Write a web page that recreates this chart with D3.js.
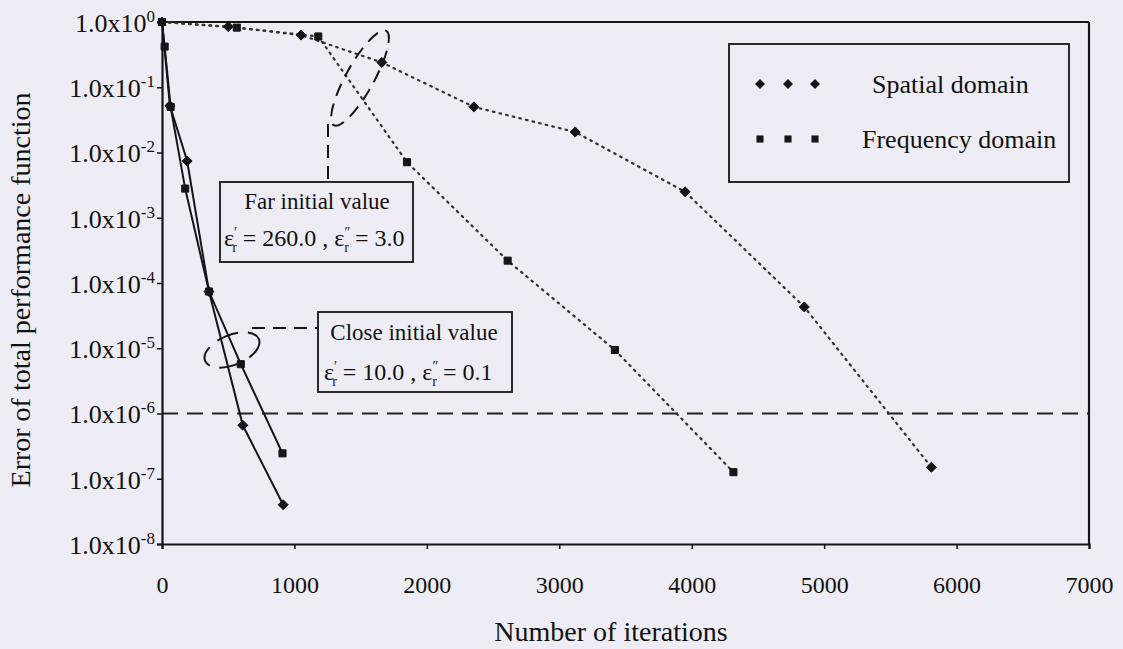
<!DOCTYPE html>
<html>
<head>
<meta charset="utf-8">
<script src="https://cdn.jsdelivr.net/npm/d3@7"></script>
<style>
  html, body { margin: 0; padding: 0; background: #eeedf6; }
  svg { display: block; }
  svg text { font-family: "Liberation Serif", "Times New Roman", Times, "DejaVu Serif", serif; fill: #111; }
</style>
</head>
<body>
<svg id="chart" width="1123" height="649"></svg>
<script>
// ---- data ----
const xTicks = [0, 1000, 2000, 3000, 4000, 5000, 6000, 7000];
const yTickExps = [0, -1, -2, -3, -4, -5, -6, -7, -8];

// Far initial value (dotted lines)
const farSpatialIter = [0, 500, 1050, 1660, 2355, 3120, 3950, 4850, 5810];
const farSpatialErr  = [1.0, 0.85, 0.63, 0.24, 0.05, 0.0206, 2.5e-3, 4.3e-5, 1.5e-7];
const farFreqIter    = [0, 565, 1180, 1850, 2610, 3420, 4315];
const farFreqErr     = [1.0, 0.82, 0.60, 7.1e-3, 2.2e-4, 9.4e-6, 1.26e-7];

// Close initial value (solid lines)
const closeSpatialIter = [0, 60, 190, 355, 610, 915];
const closeSpatialErr  = [1.0, 0.052, 7.4e-3, 7.4e-5, 6.6e-7, 4.0e-8];
const closeFreqIter    = [0, 20, 65, 175, 355, 595, 910];
const closeFreqErr     = [1.0, 0.42, 0.05, 2.8e-3, 7.4e-5, 5.7e-6, 2.45e-7];

const threshold = 1e-6;
const legendLabels = ["Spatial domain", "Frequency domain"];
const xTitle = "Number of iterations";
const yTitle = "Error of total performance function";

const FONT = "'Liberation Serif', 'Times New Roman', Times, 'DejaVu Serif', serif";

// ---- scales ----
const svg = d3.select("#chart");
const x = d3.scaleLinear().domain([0, 7000]).range([162, 1089]);
const y = d3.scaleLog().domain([1e-8, 1]).range([544, 22]);
const ink = "#151515";

// frame: top and right borders
svg.append("line").attr("x1", x(0)).attr("x2", x(7000)).attr("y1", y(1)).attr("y2", y(1))
  .attr("stroke", ink).attr("stroke-width", 2.2);
svg.append("line").attr("x1", x(7000)).attr("x2", x(7000)).attr("y1", y(1)).attr("y2", y(1e-8))
  .attr("stroke", ink).attr("stroke-width", 2.2);

// x axis
const gx = svg.append("g").attr("transform", `translate(0,${y(1e-8)})`)
  .call(d3.axisBottom(x).tickValues(xTicks).tickSize(5).tickPadding(27).tickFormat(d3.format("d")));
gx.attr("font-family", null).attr("font-size", null);
gx.select(".domain").attr("stroke", ink).attr("stroke-width", 2.2);
gx.selectAll(".tick line").attr("stroke", ink).attr("stroke-width", 1.5);
gx.selectAll(".tick text").attr("font-size", 24).style("font-family", FONT).attr("fill", ink);

// y axis
const gy = svg.append("g").attr("transform", `translate(${x(0)},0)`)
  .call(d3.axisLeft(y).tickValues(yTickExps.map(e => Math.pow(10, e))).tickSize(5).tickFormat(""));
gy.attr("font-family", null).attr("font-size", null);
gy.select(".domain").attr("stroke", ink).attr("stroke-width", 2.2);
gy.selectAll(".tick line").attr("stroke", ink).attr("stroke-width", 1.5);
gy.selectAll(".tick").each(function(d, i) {
  const t = d3.select(this).append("text")
    .attr("x", -7).attr("dy", "0.36em").attr("text-anchor", "end")
    .attr("font-size", 26).style("font-family", FONT).attr("fill", ink);
  t.append("tspan").text("1.0x10");
  t.append("tspan").attr("font-size", 17).attr("dy", -10).text(yTickExps[i]);
});

// axis titles
svg.append("text").attr("x", 611).attr("y", 641).attr("text-anchor", "middle")
  .attr("font-size", 28).style("font-family", FONT).text(xTitle);
svg.append("text").attr("transform", `translate(30,290) rotate(-90)`)
  .attr("text-anchor", "middle").attr("font-size", 28).style("font-family", FONT).text(yTitle);

// threshold dashed line
svg.append("line").attr("x1", x(0)).attr("x2", x(7000)).attr("y1", y(threshold)).attr("y2", y(threshold))
  .attr("stroke", "#222").attr("stroke-width", 2).attr("stroke-dasharray", "16,9");

// series
const line = d3.line().x(d => x(d[0])).y(d => y(d[1]));
const zip = (a, b) => a.map((v, i) => [v, b[i]]);
const series = [
  { data: zip(farSpatialIter, farSpatialErr), marker: "diamond", dotted: true },
  { data: zip(farFreqIter, farFreqErr), marker: "square", dotted: true },
  { data: zip(closeSpatialIter, closeSpatialErr), marker: "diamond", dotted: false },
  { data: zip(closeFreqIter, closeFreqErr), marker: "square", dotted: false },
];
const diamond = d3.symbol().type(d3.symbolDiamond2).size(64);
const square = d3.symbol().type(d3.symbolSquare2).size(64);

series.forEach(s => {
  const p = svg.append("path").datum(s.data).attr("d", line).attr("fill", "none");
  if (s.dotted) p.attr("stroke", "#333").attr("stroke-width", 2.2).attr("stroke-dasharray", "1.6,5.2").attr("stroke-linecap", "round");
  else p.attr("stroke", ink).attr("stroke-width", 2);
});
series.forEach(s => {
  svg.append("g").selectAll("path").data(s.data).join("path")
    .attr("transform", d => `translate(${x(d[0])},${y(d[1])})`)
    .attr("d", s.marker === "diamond" ? diamond : square)
    .attr("fill", ink).attr("stroke", ink).attr("stroke-width", 1);
});

// ---- annotations ----
const dash = "13,8";
// Far initial value: ellipse + leader + box
svg.append("ellipse").attr("cx", 360).attr("cy", 78).attr("rx", 54).attr("ry", 14)
  .attr("transform", "rotate(-61,360,78)")
  .attr("fill", "none").attr("stroke", ink).attr("stroke-width", 2).attr("stroke-dasharray", dash);
svg.append("line").attr("x1", 328).attr("x2", 328).attr("y1", 124).attr("y2", 182)
  .attr("stroke", ink).attr("stroke-width", 2).attr("stroke-dasharray", dash);
svg.append("rect").attr("x", 220).attr("y", 182).attr("width", 193).attr("height", 80)
  .attr("fill", "#eeedf6").attr("stroke", ink).attr("stroke-width", 1.8);
svg.append("text").attr("x", 317).attr("y", 209).attr("text-anchor", "middle").attr("font-size", 23)
  .style("font-family", FONT).text("Far initial value");

function epsLine(xs, yb, a, b) {
  const t = svg.append("text").attr("x", xs).attr("y", yb).attr("font-size", 24).style("font-family", FONT);
  t.append("tspan").text("ε");
  t.append("tspan").attr("font-size", 14).attr("dy", -9).attr("dx", 0).text("′");
  t.append("tspan").attr("font-size", 14).attr("dy", 15).attr("dx", -5).text("r");
  t.append("tspan").attr("dy", -6).text(" = " + a + " ,  ε");
  t.append("tspan").attr("font-size", 14).attr("dy", -9).text("″");
  t.append("tspan").attr("font-size", 14).attr("dy", 15).attr("dx", -6).text("r");
  t.append("tspan").attr("dy", -6).text(" = " + b);
  return t;
}
epsLine(224, 246, "260.0", "3.0");

// Close initial value
svg.append("ellipse").attr("cx", 232).attr("cy", 350).attr("rx", 29).attr("ry", 15)
  .attr("transform", "rotate(-22,232,350)")
  .attr("fill", "none").attr("stroke", ink).attr("stroke-width", 2).attr("stroke-dasharray", "22,10");
svg.append("line").attr("x1", 252).attr("x2", 318).attr("y1", 328).attr("y2", 328)
  .attr("stroke", ink).attr("stroke-width", 2).attr("stroke-dasharray", dash);
svg.append("rect").attr("x", 318).attr("y", 312).attr("width", 194).attr("height", 80)
  .attr("fill", "#eeedf6").attr("stroke", ink).attr("stroke-width", 1.8);
svg.append("text").attr("x", 414).attr("y", 340).attr("text-anchor", "middle").attr("font-size", 23)
  .style("font-family", FONT).text("Close initial value");
epsLine(324, 380, "10.0", "0.1");

// legend
svg.append("rect").attr("x", 729).attr("y", 44).attr("width", 340).attr("height", 138)
  .attr("fill", "#eeedf6").attr("stroke", ink).attr("stroke-width", 1.8);
[0, 1].forEach(i => {
  const yy = i === 0 ? 84 : 139;
  [760, 788, 815].forEach(xx => {
    svg.append("path").attr("transform", `translate(${xx},${yy})`)
      .attr("d", i === 0 ? diamond : square).attr("fill", ink);
  });
  svg.append("text").attr("x", i === 0 ? 872 : 862).attr("y", i === 0 ? 93 : 148)
    .attr("font-size", 26).style("font-family", FONT).text(legendLabels[i]);
});
</script>
</body>
</html>
